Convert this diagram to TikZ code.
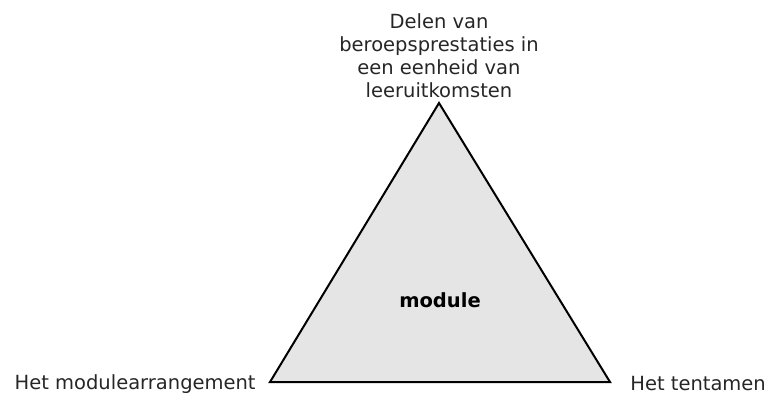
\documentclass[tikz,border=0pt]{standalone}
\usepackage{fontspec}
\setmainfont{DejaVu Sans}
\usetikzlibrary{positioning}

\begin{document}
\begin{tikzpicture}[x=1pt, y=-1pt, thick]

  \useasboundingbox (0,0) rectangle (767,394);

  \tikzset{
    corner label/.style={font=\fontsize{19.5}{23}\selectfont, inner sep=0pt, text=black!85},
    module face/.style={fill=black!10, draw=black, line width=2pt, line join=miter}
  }

  % Corners of the triangle
  \coordinate (top) at (439,103);
  \coordinate (left) at (270,382);
  \coordinate (right) at (610,382);

  % Draw the triangle
  \draw[module face] (top) -- (right) -- (left) -- cycle;

  \node[font=\bfseries\fontsize{19.5}{23}\selectfont] (module) at (440,300) {module};

  % Labels at the corners
  \node[corner label, align=center] (parts) at (439,56)
    {Delen van\\beroepsprestaties in\\een eenheid van\\leeruitkomsten};
  \node[corner label, anchor=base east] (arrangement) at (256,389) {Het modulearrangement};
  \node[corner label, anchor=base west] (exam) at (630,390) {Het tentamen};
\end{tikzpicture}
\end{document}
